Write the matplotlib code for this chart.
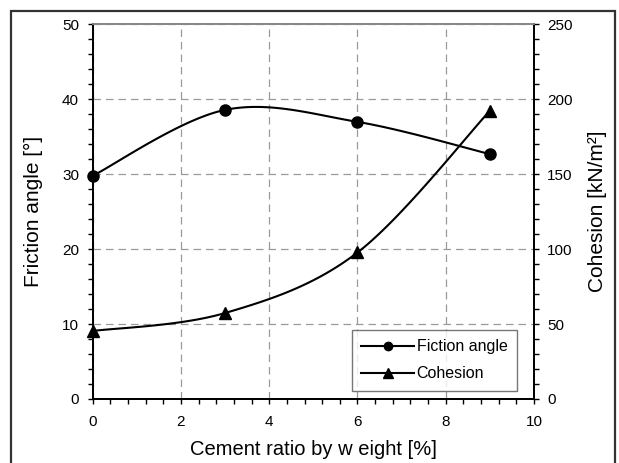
import numpy as np
import matplotlib
matplotlib.use("Agg")
import matplotlib.pyplot as plt
from matplotlib.lines import Line2D
from matplotlib.patches import Rectangle

plt.rcParams['font.family'] = ['Liberation Sans', 'DejaVu Sans']

cement = [0, 3, 6, 9]
friction = [29.8, 38.6, 37.0, 32.7]
cohesion = [45.4, 57.4, 97.8, 192.4]

def smooth(x, y, n=40):
    x = np.asarray(x, float); y = np.asarray(y, float)
    px = np.concatenate([[x[0]], x, [x[-1]]])
    py = np.concatenate([[y[0]], y, [y[-1]]])
    xs, ys = [], []
    t = np.linspace(0, 1, n)
    for i in range(1, len(px) - 2):
        p0 = np.array([px[i], py[i]]); p3 = np.array([px[i+1], py[i+1]])
        p1 = p0 + (np.array([px[i+1], py[i+1]]) - np.array([px[i-1], py[i-1]])) / 6
        p2 = p3 - (np.array([px[i+2], py[i+2]]) - np.array([px[i], py[i]])) / 6
        b = ((1-t)**3)[:, None]*p0 + (3*(1-t)**2*t)[:, None]*p1 + (3*(1-t)*t**2)[:, None]*p2 + (t**3)[:, None]*p3
        xs.append(b[:, 0]); ys.append(b[:, 1])
    return np.concatenate(xs), np.concatenate(ys)

W, H = 619, 463
fig = plt.figure(figsize=(W/100, H/100), dpi=100)
fig.patches.append(Rectangle((11/W, -0.05), (615-11)/W, 1.05 - 11/H, transform=fig.transFigure,
                             fill=False, edgecolor='#333333', linewidth=1.6))
L, R, T, B = 92.7, 534.0, 24.5, 399.0
ax = fig.add_axes([L/W, 1-B/H, (R-L)/W, (B-T)/H])
ax2 = ax.twinx()

ax.set_xlim(0, 10); ax.set_ylim(0, 50)
ax2.set_ylim(0, 250)
ax.set_xticks(np.arange(0, 11, 2))
ax.set_xticks(np.arange(0, 10.01, 0.4), minor=True)
ax.set_yticks(np.arange(0, 51, 10))
ax.set_yticks(np.arange(0, 50.01, 2), minor=True)
ax2.set_yticks(np.arange(0, 251, 50))
ax2.set_yticks(np.arange(0, 250.01, 10), minor=True)

for a in (ax, ax2):
    a.tick_params(which='both', direction='out', length=3.3, width=1, labelsize=11, color='black')
    for s in a.spines.values():
        s.set_linewidth(1.3)
    a.spines['top'].set_color('#888888')
ax.tick_params(axis='x', which='major', pad=8)
ax.tick_params(axis='y', which='major', pad=6.5)
ax2.tick_params(axis='y', which='major', pad=6)

ax.grid(True, which='major', linestyle=(0, (6, 4)), color='#9a9a9a', linewidth=0.9)
ax.set_axisbelow(True)

fx, fy = smooth(cement, friction)
ax.plot(fx, fy, color='black', lw=1.5, zorder=3)
ax.plot(cement, friction, 'o', color='black', ms=8, zorder=4, clip_on=False)

cx, cy = smooth(cement, cohesion)
ax2.plot(cx, cy, color='black', lw=1.5, zorder=3)
ax2.plot(cement, cohesion, '^', color='black', ms=9, zorder=4, clip_on=False)

ax.set_xlabel('Cement ratio by w eight [%]', fontsize=14.5, labelpad=8)
ax.set_ylabel('Friction angle [°]', fontsize=15, labelpad=14)
ax2.set_ylabel('Cohesion [kN/m²]', fontsize=15, labelpad=11.5)

handles = [Line2D([], [], color='black', lw=1.5, marker='o', ms=6),
           Line2D([], [], color='black', lw=1.5, marker='^', ms=7)]
leg = ax2.legend(handles, ['Fiction angle', 'Cohesion'], loc='lower right',
                 bbox_to_anchor=(517/W, 1-391/H), bbox_transform=fig.transFigure, borderaxespad=0,
                 fontsize=11.5, frameon=True, fancybox=False, edgecolor='#555555',
                 handlelength=3.3, handletextpad=0.15, borderpad=0.6, labelspacing=0.75)
leg.get_frame().set_linewidth(1.0)

fig.savefig('out.png', dpi=100)
